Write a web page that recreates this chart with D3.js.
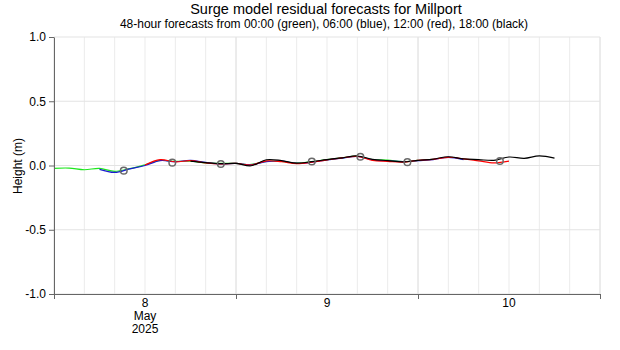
<!DOCTYPE html>
<html><head><meta charset="utf-8">
<script src="https://cdn.jsdelivr.net/npm/d3@7"></script>
<style>body{margin:0;background:#fff}svg{display:block}text{font-family:"Liberation Sans",Arial,sans-serif}</style>
</head><body><svg id="c" width="620" height="350"></svg>
<script>
// ---- data (values in metres, 2-hourly from each run start) ----
const dayLabels = ["8", "9", "10"];
const yTicks = [-1.0, -0.5, 0.0, 0.5, 1.0];
const runStartHours = { green: 0, blue: 6, red: 12, black: 18 }; // hours after 8 May 00:00
const greenValues = [-0.022,-0.020,-0.033,-0.022,-0.045,-0.024,0.006,0.040,0.032,0.034,0.020,0.016,0.016,0.008,0.032,0.032,0.018,0.030,0.046,0.060,0.072,0.046,0.042,0.030,0.040];
const blueValues  = [-0.030,-0.054,-0.026,0.000,0.038,0.030,0.040,0.024,0.012,0.016,0.006,0.030,0.034,0.016,0.026,0.044,0.058,0.070,0.044,0.036,0.030,0.038,0.046,0.064,0.046];
const redValues   = [0.004,0.046,0.028,0.038,0.020,0.012,0.016,0.004,0.036,0.030,0.015,0.026,0.044,0.060,0.070,0.040,0.032,0.026,0.040,0.048,0.064,0.052,0.036,0.020,0.034];
const blackValues = [0.034,0.022,0.014,0.016,-0.002,0.045,0.038,0.018,0.030,0.046,0.060,0.074,0.048,0.038,0.028,0.040,0.050,0.068,0.052,0.046,0.040,0.066,0.056,0.075,0.058];
const markerHours  = [9.2, 15.6, 22.0, 34.0, 40.4, 46.6, 58.8];
const markerValues = [-0.040, 0.022, 0.012, 0.031, 0.068, 0.026, 0.035];

const svg = d3.select("#c");
const t0 = Date.UTC(2025, 4, 8, 0, 0);
const H = 3600 * 1000;
const x = d3.scaleUtc().domain([new Date(t0), new Date(t0 + 72 * H)]).range([54, 600]);
const y = d3.scaleLinear().domain([-1, 1]).range([294, 37]);

// grid
const g = svg.append("g");
const gridTimes = d3.range(0, 73, 4).map(h => new Date(t0 + h * H));
g.selectAll(".vg").data(gridTimes).join("line")
  .attr("x1", d => x(d)).attr("x2", d => x(d)).attr("y1", 37).attr("y2", 294)
  .attr("stroke", d => ((d - t0) / H) % 24 === 0 ? "#d8d8d8" : "#ebebeb").attr("stroke-width", 1);
g.selectAll(".hg").data(yTicks).join("line")
  .attr("x1", 54).attr("x2", 600).attr("y1", d => y(d)).attr("y2", d => y(d))
  .attr("stroke", "#e3e3e3").attr("stroke-width", 1);

// series
const line = d3.line().x(d => x(d.t)).y(d => y(d.v)).curve(d3.curveCatmullRom);
const series = [
  { c: "#1ee61e", vals: greenValues, s: runStartHours.green },
  { c: "#1a1ad0", vals: blueValues, s: runStartHours.blue },
  { c: "#ff0000", vals: redValues, s: runStartHours.red },
  { c: "#000000", vals: blackValues, s: runStartHours.black }
];
series.forEach(sr => {
  const pts = sr.vals.map((v, i) => ({ t: new Date(t0 + (sr.s + 2 * i) * H), v }));
  svg.append("path").attr("d", line(pts)).attr("fill", "none").attr("stroke", sr.c).attr("stroke-width", 1.2);
});

// markers
svg.selectAll(".mk").data(markerHours).join("circle")
  .attr("cx", d => x(new Date(t0 + d * H))).attr("cy", (d, i) => y(markerValues[i]))
  .attr("r", 3.3).attr("fill", "none").attr("stroke", "#6a6a6a").attr("stroke-width", 1.5);

// y axis
const ya = svg.append("g").attr("transform", "translate(54,0)")
  .call(d3.axisLeft(y).tickValues(yTicks).tickFormat(d3.format(".1f")).tickSize(5).tickPadding(3).tickSizeOuter(0));
ya.select(".domain").attr("stroke", "#666");
ya.selectAll(".tick line").attr("stroke", "#666");
ya.selectAll("text").attr("font-size", 12).attr("fill", "#000").attr("font-family", "Liberation Sans, Arial, sans-serif");
ya.selectAll(".tick text").text(d => d === 0 ? "0.0" : d3.format(".1f")(d).replace("−", "-"));

// x axis
const xa = svg.append("g").attr("transform", "translate(0,294)")
  .call(d3.axisBottom(x).tickValues([0, 24, 48, 72].map(h => new Date(t0 + h * H))).tickFormat("").tickSize(5).tickSizeOuter(0));
xa.select(".domain").attr("stroke", "#666");
xa.selectAll(".tick line").attr("stroke", "#666");
const lab = svg.append("g");
dayLabels.forEach((d, i) => {
  const cx = x(new Date(t0 + (12 + 24 * i) * H));
  lab.append("text").attr("x", cx).attr("y", 307).attr("text-anchor", "middle").attr("font-size", 12).text(d);
  if (i === 0) {
    lab.append("text").attr("x", cx).attr("y", 320).attr("text-anchor", "middle").attr("font-size", 12).text("May");
    lab.append("text").attr("x", cx).attr("y", 333).attr("text-anchor", "middle").attr("font-size", 12).text("2025");
  }
});

// titles
svg.append("text").attr("x", 326).attr("y", 14).attr("text-anchor", "middle").attr("font-size", 14.5)
  .text("Surge model residual forecasts for Millport");
svg.append("text").attr("x", 324).attr("y", 28).attr("text-anchor", "middle").attr("font-size", 12)
  .text("48-hour forecasts from 00:00 (green), 06:00 (blue), 12:00 (red), 18:00 (black)");
svg.append("text").attr("transform", "translate(22,166) rotate(-90)").attr("text-anchor", "middle").attr("font-size", 12)
  .text("Height (m)");
</script></body></html>
